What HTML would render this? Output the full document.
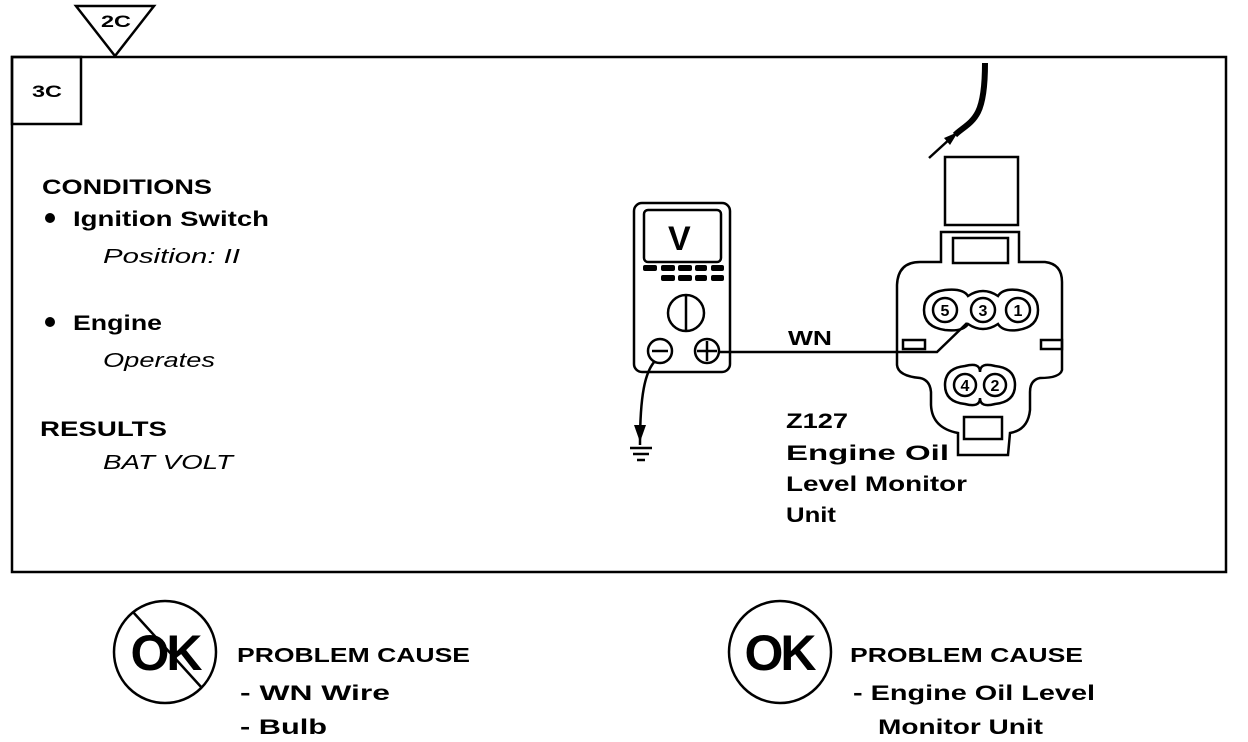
<!DOCTYPE html>
<html><head><meta charset="utf-8"><style>
html,body{margin:0;padding:0;background:#fff;}
svg{display:block;}
text{font-family:"Liberation Sans",Arial,sans-serif;fill:#000;}
.b{font-weight:bold;}
.i{font-style:italic;}
</style></head><body>
<svg width="1248" height="742" viewBox="0 0 1248 742" xmlns="http://www.w3.org/2000/svg">
<g fill="none" stroke="#000" stroke-width="2.5">
<rect x="12" y="57" width="1214" height="515"/>
<rect x="12" y="57" width="69" height="67"/>
<path d="M76 6 L154 6 L115 56 Z"/>
</g>
<text x="101" y="27" class="b" font-size="17" textLength="30" lengthAdjust="spacingAndGlyphs">2C</text>
<text x="32" y="97" class="b" font-size="17" textLength="30" lengthAdjust="spacingAndGlyphs">3C</text>

<text x="42" y="194" class="b" font-size="21" textLength="170" lengthAdjust="spacingAndGlyphs">CONDITIONS</text>
<circle cx="50" cy="218" r="5"/>
<text x="73" y="226" class="b" font-size="21" textLength="196" lengthAdjust="spacingAndGlyphs">Ignition Switch</text>
<text x="103" y="263" class="i" font-size="20" textLength="137" lengthAdjust="spacingAndGlyphs">Position: II</text>
<circle cx="50" cy="322" r="5"/>
<text x="73" y="330" class="b" font-size="21" textLength="89" lengthAdjust="spacingAndGlyphs">Engine</text>
<text x="103" y="367" class="i" font-size="20" textLength="112" lengthAdjust="spacingAndGlyphs">Operates</text>
<text x="40" y="436" class="b" font-size="21" textLength="127" lengthAdjust="spacingAndGlyphs">RESULTS</text>
<text x="103" y="469" class="i" font-size="20" textLength="130" lengthAdjust="spacingAndGlyphs">BAT VOLT</text>

<!-- multimeter -->
<g fill="none" stroke="#000" stroke-width="2.5">
<rect x="634" y="203" width="96" height="169" rx="8"/>
<rect x="644" y="210" width="77" height="52" rx="4"/>
<circle cx="686" cy="313" r="18"/>
<line x1="686" y1="296" x2="686" y2="330"/>
<circle cx="660" cy="351" r="12"/>
<line x1="652" y1="351" x2="668" y2="351"/>
<circle cx="707" cy="351" r="12"/>
<line x1="697" y1="351" x2="717" y2="351"/><line x1="707" y1="341" x2="707" y2="361"/>
<path d="M655 361 C645 372 640 395 640 445"/>
<line x1="630" y1="448" x2="652" y2="448"/>
<line x1="633" y1="454" x2="649" y2="454"/>
<line x1="637" y1="460" x2="645" y2="460"/>
<line x1="719" y1="352" x2="905" y2="352"/>
<path d="M905 352 L937 352 L967 323"/>
</g>
<path d="M634 425 L640 442 L646 425 Z"/>
<text x="668" y="250" class="b" font-size="34">V</text>
<g fill="#000">
<rect x="643" y="265" width="14" height="6" rx="2"/><rect x="661" y="265" width="14" height="6" rx="2"/><rect x="678" y="265" width="14" height="6" rx="2"/><rect x="695" y="265" width="12" height="6" rx="2"/><rect x="711" y="265" width="13" height="6" rx="2"/>
<rect x="661" y="275" width="14" height="6" rx="2"/><rect x="678" y="275" width="14" height="6" rx="2"/><rect x="695" y="275" width="12" height="6" rx="2"/><rect x="711" y="275" width="13" height="6" rx="2"/>
</g>
<text x="788" y="345" class="b" font-size="20" textLength="44" lengthAdjust="spacingAndGlyphs">WN</text>

<!-- connector -->
<path d="M985 63 C985 80 984 100 978 112 C972 124 962 128 955 135" fill="none" stroke="#000" stroke-width="6"/>
<line x1="929" y1="158" x2="952" y2="137" stroke="#000" stroke-width="2.5"/>
<path d="M958 132 L944 138 L950 145 Z"/>
<g fill="none" stroke="#000" stroke-width="2.5">
<rect x="945" y="157" width="73" height="68"/>
<path d="M941 232 L1019 232 L1019 262 L1045 262 Q1062 264 1062 282 L1062 370 Q1060 378 1040 378 Q1030 380 1030 392 L1030 410 Q1028 430 1010 433 L1008 455 L958 455 L958 433 Q932 428 931 405 L931 392 Q930 380 920 378 Q898 376 897 365 L897 285 Q898 262 920 262 L941 262 Z"/>
<rect x="953" y="238" width="55" height="25"/>
<rect x="903" y="340" width="22" height="9"/>
<rect x="1041" y="340" width="21" height="9"/>
<rect x="964" y="417" width="38" height="22"/>
<path d="M945 290 Q963 288 968 296 Q983 286 998 296 Q1003 288 1018 290 Q1038 293 1038 310 Q1038 327 1018 330 Q1003 332 998 324 Q983 334 968 324 Q963 332 945 330 Q924 327 924 310 Q924 293 945 290 Z"/>
<circle cx="945" cy="310" r="12"/><circle cx="983" cy="310" r="12"/><circle cx="1018" cy="310" r="12"/>
<path d="M965 366 Q980 362 980 372 Q980 362 995 366 Q1015 368 1015 385 Q1015 402 995 404 Q980 408 980 398 Q980 408 965 404 Q945 402 945 385 Q945 368 965 366 Z"/>
<circle cx="965" cy="385" r="11"/><circle cx="995" cy="385" r="11"/>
</g>
<text x="945" y="316" font-size="16" text-anchor="middle" class="b">5</text>
<text x="983" y="316" font-size="16" text-anchor="middle" class="b">3</text>
<text x="1018" y="316" font-size="16" text-anchor="middle" class="b">1</text>
<text x="965" y="391" font-size="16" text-anchor="middle" class="b">4</text>
<text x="995" y="391" font-size="16" text-anchor="middle" class="b">2</text>

<text x="786" y="428" class="b" font-size="21" textLength="62" lengthAdjust="spacingAndGlyphs">Z127</text>
<text x="786" y="460" class="b" font-size="21" textLength="163" lengthAdjust="spacingAndGlyphs">Engine Oil</text>
<text x="786" y="491" class="b" font-size="21" textLength="181" lengthAdjust="spacingAndGlyphs">Level Monitor</text>
<text x="786" y="522" class="b" font-size="21" textLength="50" lengthAdjust="spacingAndGlyphs">Unit</text>

<!-- bottom -->
<g fill="none" stroke="#000" stroke-width="2.5">
<circle cx="165" cy="652" r="51"/>
<line x1="133" y1="612" x2="202" y2="688"/>
<circle cx="780" cy="652" r="51"/>
</g>
<text x="165" y="670" class="b" font-size="50" text-anchor="middle" letter-spacing="-3">OK</text>
<text x="779" y="670" class="b" font-size="50" text-anchor="middle" letter-spacing="-3">OK</text>
<text x="237" y="662" class="b" font-size="20" textLength="233" lengthAdjust="spacingAndGlyphs">PROBLEM CAUSE</text>
<text x="240" y="700" class="b" font-size="21" textLength="150" lengthAdjust="spacingAndGlyphs">-  WN  Wire</text>
<text x="240" y="734" class="b" font-size="21" textLength="87" lengthAdjust="spacingAndGlyphs">-  Bulb</text>
<text x="850" y="662" class="b" font-size="20" textLength="233" lengthAdjust="spacingAndGlyphs">PROBLEM CAUSE</text>
<text x="853" y="700" class="b" font-size="21" textLength="242" lengthAdjust="spacingAndGlyphs">-  Engine Oil Level</text>
<text x="878" y="734" class="b" font-size="21" textLength="165" lengthAdjust="spacingAndGlyphs">Monitor Unit</text>
</svg>
</body></html>
